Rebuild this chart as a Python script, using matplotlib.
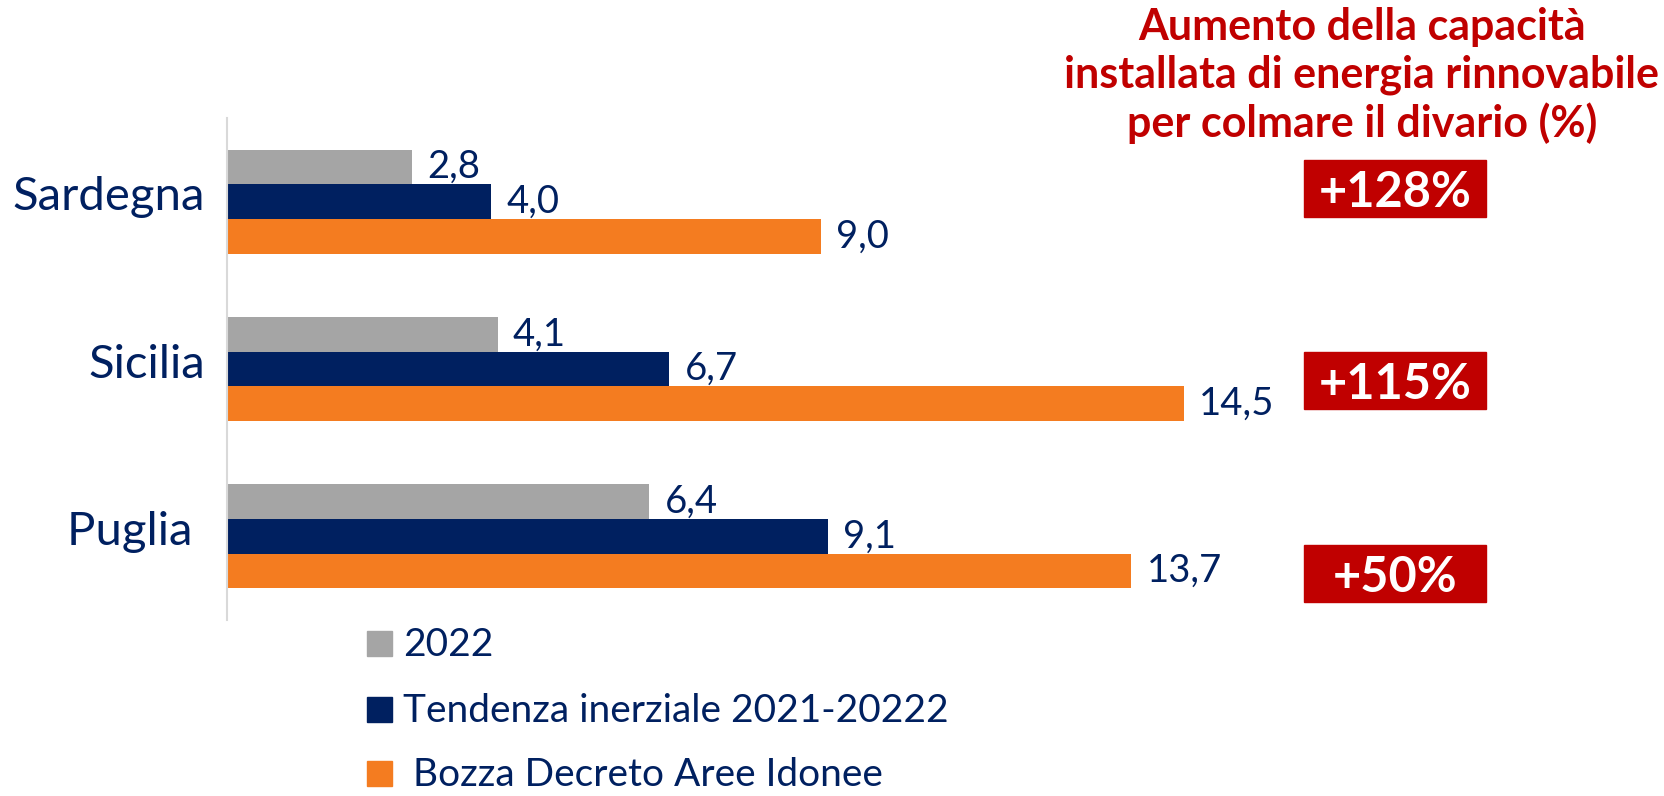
import numpy as np
import matplotlib.pyplot as plt
import matplotlib.transforms as mtransforms
from matplotlib.patches import Rectangle

plt.rcParams['font.family'] = ['Lato', 'DejaVu Sans']

# dati (GW)
regioni = ['Sardegna', 'Sicilia', 'Puglia ']
val_2022 = [2.8, 4.1, 6.4]
val_tendenza = [4.0, 6.7, 9.1]
val_bozza = [9.0, 14.5, 13.7]
aumenti = ['+128%', '+115%', '+50%']
serie_nomi = ['2022', 'Tendenza inerziale 2021-20222', ' Bozza Decreto Aree Idonee']

grigio = '#A5A5A5'
navy = '#002060'
arancio = '#F47C20'
rosso = '#C00000'

fig = plt.figure(figsize=(16.65, 7.96), dpi=100)
ax = fig.add_axes([0.1363, 0.2211, 0.7928, 0.6307])

y = np.arange(len(regioni))
h = 0.207
b1 = ax.barh(y - h, val_2022, height=h, color=grigio)
b2 = ax.barh(y, val_tendenza, height=h, color=navy)
b3 = ax.barh(y + h, val_bozza, height=h, color=arancio)

giu = mtransforms.ScaledTranslation(0, -2 / 72, fig.dpi_scale_trans)
for bars, vals in [(b1, val_2022), (b2, val_tendenza), (b3, val_bozza)]:
    etichette = ax.bar_label(bars, labels=[f'{v:.1f}'.replace('.', ',') for v in vals],
                             padding=11, fontsize=27.5, color=navy)
    for t in etichette:
        t.set_transform(t.get_transform() + giu)

ax.set_xlim(0, 20)
ax.set_ylim(2.5, -0.5)
ax.set_yticks(y)
ax.set_yticklabels(regioni, fontsize=34, color=navy)
ax.tick_params(axis='y', length=0, pad=16)
su = mtransforms.ScaledTranslation(0, 6 / 72, fig.dpi_scale_trans)
for lab in ax.get_yticklabels():
    lab.set_transform(lab.get_transform() + su)
ax.set_xticks([])
for s in ['top', 'right', 'bottom']:
    ax.spines[s].set_visible(False)
ax.spines['left'].set_color('#D9D9D9')
ax.spines['left'].set_linewidth(1.5)

# titolo a destra
fig.text(0.818, 0.991, 'Aumento della capacità\ninstallata di energia rinnovabile\nper colmare il divario (%)',
         ha='center', va='top', fontsize=31, fontweight='bold', color=rosso, linespacing=1.22)

# box con aumenti percentuali
box_y = [0.7638, 0.5214, 0.2789]
bw, bh = 0.1093, 0.0716
for txt, yc in zip(aumenti, box_y):
    fig.patches.append(Rectangle((0.8378 - bw / 2, yc - bh / 2), bw, bh,
                                 transform=fig.transFigure, color=rosso, zorder=1))
    fig.text(0.8378, yc, txt, ha='center', va='center_baseline', fontsize=35,
             fontweight='bold', color='white', zorder=2)

# legenda (righe: quadratino + testo)
W, H = 1665, 796
baseline = [656, 722, 786]
for nome, col, yb in zip(serie_nomi, [grigio, navy, arancio], baseline):
    fig.patches.append(Rectangle((367 / W, 1 - yb / H), 25 / W, 25 / H,
                                 transform=fig.transFigure, color=col))
    fig.text(403 / W, 1 - yb / H, nome, ha='left', va='baseline', fontsize=28, color=navy)

fig.savefig('out.png', dpi=100, facecolor='white')
